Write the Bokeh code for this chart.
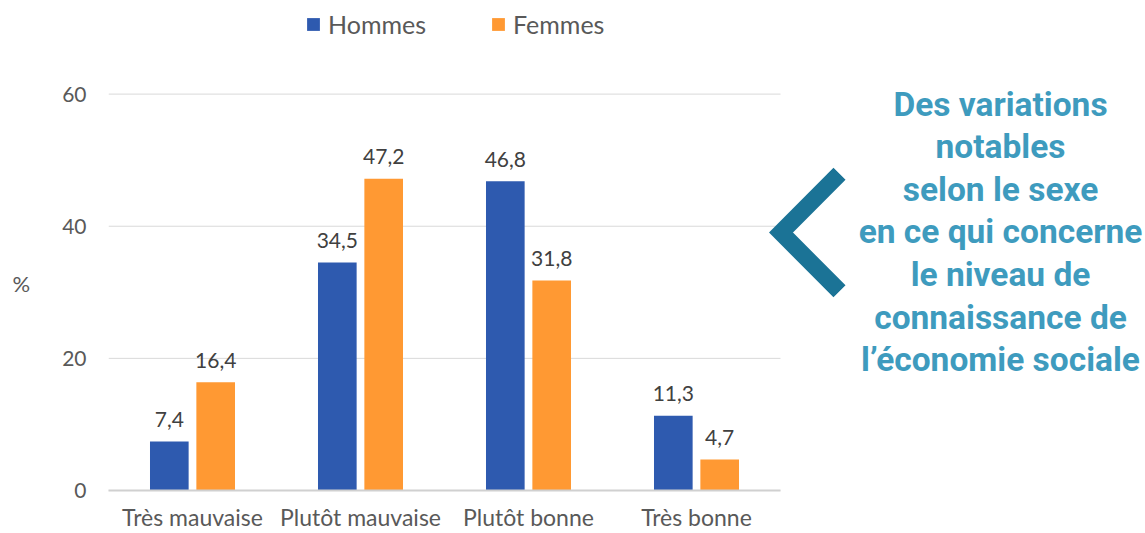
import numpy as np
from bokeh.plotting import figure
from bokeh.models import Range1d, FixedTicker, Legend, LegendItem
from bokeh.core.properties import value
from bokeh.embed import file_html
from bokeh.resources import INLINE

# ---- data ----
categories = ["Très mauvaise", "Plutôt mauvaise", "Plutôt bonne", "Très bonne"]
hommes = [7.4, 34.5, 46.8, 11.3]
femmes = [16.4, 47.2, 31.8, 4.7]
series_names = ["Hommes", "Femmes"]
y_ticks = [0, 20, 40, 60]
y_axis_label = "%"
annotation_lines = [
    "Des variations",
    "notables",
    "selon le sexe",
    "en ce qui concerne",
    "le niveau de",
    "connaissance de",
    "l’économie sociale",
]

# ---- colours / layout ----
BLUE = "#2E5AAF"
ORANGE = "#FF9933"
TEAL = "#3E9BBE"
CHEVRON = "#1B7396"
GRID = "#D9D9D9"
FONT = "Lato"

W, H = 1145, 533
LEFT, BOTTOM = 108, 41
frame_w = W - LEFT
frame_h = H - BOTTOM
px_per_cat = 168.0
px_per_unit = 398.0 / 60.0
x_end = frame_w / px_per_cat
y_end = frame_h / px_per_unit


def sx2x(sx):
    return (sx - LEFT) / px_per_cat


def sy2y(sy):
    return (frame_h - sy) / px_per_unit


n = len(categories)
centers = np.arange(n) + 0.5
dodge = 0.138
bar_w = 0.23

p = figure(width=W, height=H, output_backend="svg", toolbar_location=None,
           x_range=Range1d(0, x_end), y_range=Range1d(0, y_end),
           min_border_left=LEFT, min_border_right=0, min_border_top=0,
           min_border_bottom=BOTTOM)
p.outline_line_color = None
p.background_fill_color = "white"
p.xgrid.visible = False
p.ygrid.visible = False

# gridlines spanning only the category area
p.segment(x0=[0] * len(y_ticks), x1=[n] * len(y_ticks), y0=y_ticks, y1=y_ticks,
          line_color=GRID, line_width=1)

r_h = p.vbar(x=centers - dodge, top=hommes, width=bar_w, bottom=0,
             fill_color=BLUE, line_color=None)
r_f = p.vbar(x=centers + dodge, top=femmes, width=bar_w, bottom=0,
             fill_color=ORANGE, line_color=None)

fmt = lambda v: f"{v:.1f}".replace(".", ",")
p.text(x=centers - dodge, y=hommes, text=[fmt(v) for v in hommes], y_offset=-22,
       text_align="center", text_baseline="alphabetic", text_font=value(FONT),
       text_font_size="21px", text_color="#404040")
p.text(x=centers + dodge, y=femmes, text=[fmt(v) for v in femmes], y_offset=-22,
       text_align="center", text_baseline="alphabetic", text_font=value(FONT),
       text_font_size="21px", text_color="#404040")

# axes
p.xaxis.ticker = FixedTicker(ticks=list(centers))
p.xaxis.major_label_overrides = {float(c): cat for c, cat in zip(centers, categories)}
p.xaxis.bounds = (0, n)
p.xaxis.axis_line_color = "#D0D0D0"
p.xaxis.axis_line_width = 2
p.xaxis.major_tick_line_color = None
p.xaxis.minor_tick_line_color = None
p.xaxis.major_tick_out = 0
p.xaxis.major_tick_in = 0
p.xaxis.minor_tick_out = 0
p.xaxis.minor_tick_in = 0
p.xaxis.major_label_standoff = 12
p.xaxis.major_label_text_font = FONT
p.xaxis.major_label_text_font_size = "23px"
p.xaxis.major_label_text_color = "#595959"

p.yaxis.ticker = FixedTicker(ticks=y_ticks)
p.yaxis.axis_line_color = None
p.yaxis.major_tick_line_color = None
p.yaxis.minor_tick_line_color = None
p.yaxis.major_tick_out = 0
p.yaxis.minor_tick_out = 0
p.yaxis.major_label_standoff = 22
p.yaxis.major_label_text_font = FONT
p.yaxis.major_label_text_font_size = "21px"
p.yaxis.major_label_text_color = "#595959"
# the label sits below the frame's middle: pad it with empty lines above
p.yaxis.axis_label = "\n\n\n" + y_axis_label
p.yaxis.axis_label_orientation = "horizontal"
p.yaxis.axis_label_standoff = 29
p.yaxis.axis_label_text_font = FONT
p.yaxis.axis_label_text_font_size = "22px"
p.yaxis.axis_label_text_font_style = "normal"
p.yaxis.axis_label_text_line_height = 0.95
p.yaxis.axis_label_text_color = "#595959"

legend = Legend(items=[LegendItem(label=series_names[0], renderers=[r_h]),
                       LegendItem(label=series_names[1], renderers=[r_f])],
                orientation="horizontal", location=(197, frame_h - 15 - 26),
                label_text_font=FONT, label_text_font_size="25px",
                label_text_color="#595959", glyph_width=16, glyph_height=16,
                label_height=26, label_standoff=7, spacing=64, padding=0,
                margin=0, border_line_color=None, background_fill_alpha=0)
p.add_layout(legend)

# chevron
p.line(x=[sx2x(839), sx2x(780.5), sx2x(839)], y=[sy2y(174), sy2y(233), sy2y(292)],
       line_color=CHEVRON, line_width=17, line_join="miter", line_cap="butt")

# annotation text
ys = [sy2y(104 + 42.8 * i) for i in range(len(annotation_lines))]
p.text(x=[sx2x(1000)] * len(annotation_lines), y=ys, text=annotation_lines,
       text_align="center", text_baseline="alphabetic", text_font=value("Roboto"),
       text_font_style="bold", text_font_size="33.5px", text_color=TEAL)

open("out.html", "w").write(file_html(p, INLINE))
